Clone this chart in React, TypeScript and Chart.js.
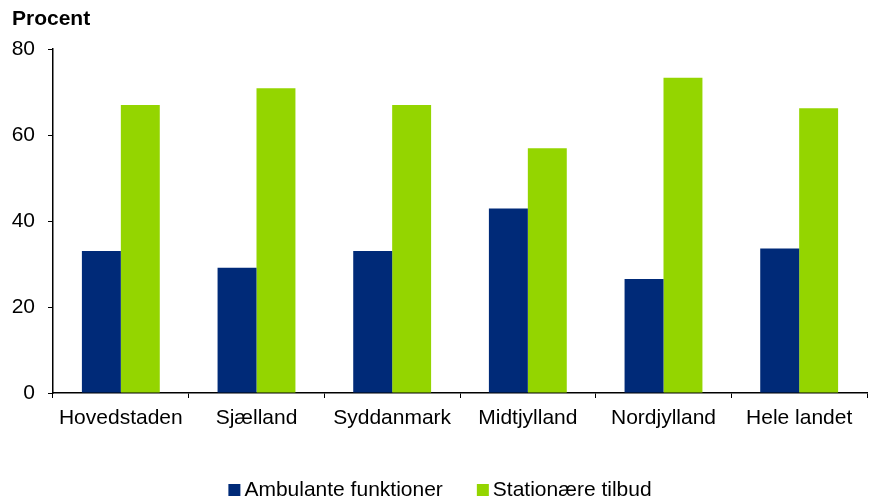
import React, { useEffect, useRef } from "react";
import { Chart, registerables } from "chart.js";

Chart.register(...registerables);

const categories = ["Hovedstaden", "Sjælland", "Syddanmark", "Midtjylland", "Nordjylland", "Hele landet"];
const ambulante = [33, 29.1, 33, 42.9, 26.5, 33.6];
const stationaere = [67, 70.9, 67, 56.9, 73.3, 66.2];
const seriesNames = ["Ambulante funktioner", "Stationære tilbud"];
const seriesColors = ["#002a78", "#94d500"];
const yTicks = [0, 20, 40, 60, 80];
const yTitle = "Procent";

const FONT = "'Liberation Sans', Arial, sans-serif";

export default function App() {
  const ref = useRef<HTMLCanvasElement | null>(null);
  useEffect(() => {
    document.body.style.margin = "0";
    const canvas = ref.current;
    if (!canvas) return;
    const extrasPlugin = {
      id: "extras",
      afterDraw(chart: any) {
        const ctx = chart.ctx;
        ctx.save();
        // y-axis title
        ctx.font = `bold 21px ${FONT}`;
        ctx.fillStyle = "#000";
        ctx.textAlign = "left";
        ctx.textBaseline = "alphabetic";
        ctx.fillText(yTitle, 12, 25);
        // legend
        ctx.font = `21px ${FONT}`;
        const box = 12;
        const gap = 4;
        const spacing = 34;
        const widths = seriesNames.map((n) => ctx.measureText(n).width);
        const total = widths.reduce((a, w) => a + box + gap + w, 0) + spacing * (seriesNames.length - 1);
        let x = 440 - total / 2;
        const baseline = 496;
        seriesNames.forEach((n, i) => {
          ctx.fillStyle = seriesColors[i];
          ctx.fillRect(x, 484, box, box);
          x += box + gap;
          ctx.fillStyle = "#000";
          ctx.fillText(n, x, baseline);
          x += widths[i] + spacing;
        });
        ctx.restore();
      },
    };
    const chart = new Chart(canvas, {
      type: "bar",
      data: {
        labels: categories,
        datasets: [
          { label: seriesNames[0], data: ambulante, backgroundColor: seriesColors[0], borderWidth: 0 },
          { label: seriesNames[1], data: stationaere, backgroundColor: seriesColors[1], borderWidth: 0 },
        ],
      },
      options: {
        responsive: false,
        animation: false,
        layout: { padding: { top: 49, right: 7, left: 0, bottom: 67 } },
        datasets: { bar: { categoryPercentage: 0.574, barPercentage: 1 } },
        plugins: {
          tooltip: { enabled: false },
          legend: { display: false },
        },
        scales: {
          x: {
            grid: { drawOnChartArea: false, drawTicks: true, tickLength: 5, color: "#000", offset: true },
            border: { display: true, color: "#000", width: 1.5 },
            ticks: { color: "#000", font: { family: FONT, size: 21 }, padding: 8, maxRotation: 0, autoSkip: false },
            afterFit(scale: any) {
              scale.height = 40;
            },
          },
          y: {
            min: 0,
            max: 80,
            afterBuildTicks(scale: any) {
              scale.ticks = yTicks.map((v) => ({ value: v }));
            },
            grid: { drawOnChartArea: false, drawTicks: true, tickLength: 5, color: "#000" },
            border: { display: true, color: "#000", width: 1.5 },
            ticks: { color: "#000", font: { family: FONT, size: 21 }, padding: 13 },
            afterFit(scale: any) {
              scale.width = 53;
            },
          },
        },
      },
      plugins: [extrasPlugin],
    });
    return () => chart.destroy();
  }, []);
  return <canvas ref={ref} width={874} height={500} style={{ display: "block" }} />;
}
